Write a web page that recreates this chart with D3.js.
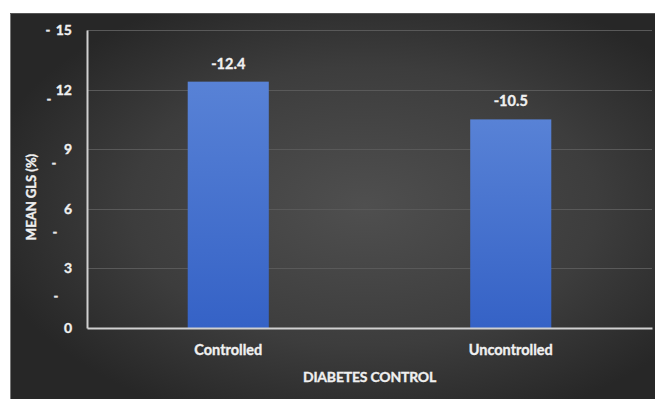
<!DOCTYPE html>
<html><head><meta charset="utf-8">
<script src="https://cdn.jsdelivr.net/npm/d3@7"></script>
<style>html,body{margin:0;padding:0;background:#fff;}svg{display:block;}
text{stroke:#f0f0f0;stroke-width:0.35px;}</style>
</head><body>
<script>
const categories = ["Controlled", "Uncontrolled"];
const meanGLS = [12.4, 10.5];
const valueLabels = ["-12.4", "-10.5"];
const yTicks = [0, 3, 6, 9, 12, 15];
const strayDashes = [15, 11.5, 8.3, 4.8, 1.6];
const xTitle = "DIABETES CONTROL";
const yTitle = "MEAN GLS (%)";

const W = 655, H = 399;
const svg = d3.select("body").append("svg").attr("width", W).attr("height", H);
const defs = svg.append("defs");
const bg = defs.append("radialGradient").attr("id","bg").attr("cx","0.55").attr("cy","0.5").attr("r","0.6");
bg.append("stop").attr("offset","0%").attr("stop-color","#4f4f4f");
bg.append("stop").attr("offset","60%").attr("stop-color","#3d3d3d");
bg.append("stop").attr("offset","100%").attr("stop-color","#272727");
const bar = defs.append("linearGradient").attr("id","bar").attr("x1",0).attr("y1",0).attr("x2",0).attr("y2",1);
bar.append("stop").attr("offset","0%").attr("stop-color","#5882d6");
bar.append("stop").attr("offset","100%").attr("stop-color","#3562c6");

svg.append("rect").attr("x",10).attr("y",13).attr("width",W-10).attr("height",H-13).attr("fill","url(#bg)");
svg.append("line").attr("x1",10.5).attr("x2",10.5).attr("y1",13).attr("y2",H).attr("stroke","#777").attr("stroke-width",1);
svg.append("line").attr("x1",10).attr("x2",W).attr("y1",13.5).attr("y2",13.5).attr("stroke","#555").attr("stroke-width",1);

const m = {left: 87, right: 652, top: 30, bottom: 328};
const x = d3.scaleBand().domain(categories).range([m.left, m.right]).paddingInner(0.713).paddingOuter(0.3565);
const y = d3.scaleLinear().domain([0, 15]).range([m.bottom, m.top]);

const font = "Lato, 'Open Sans', sans-serif";

// gridlines
svg.append("g").selectAll("line").data(yTicks.filter(d => d > 0)).join("line")
  .attr("x1", m.left).attr("x2", m.right)
  .attr("y1", d => Math.round(y(d)) + 0.5).attr("y2", d => Math.round(y(d)) + 0.5)
  .attr("stroke", "#595959").attr("stroke-width", 1);

// bars
svg.append("g").selectAll("rect").data(meanGLS).join("rect")
  .attr("x", (d,i) => x(categories[i])).attr("width", x.bandwidth())
  .attr("y", d => y(d)).attr("height", d => y(0) - y(d))
  .attr("fill", "url(#bar)");

// axes
const yAxis = svg.append("g").attr("transform", `translate(${m.left},0)`)
  .call(d3.axisLeft(y).tickValues(yTicks).tickSize(0).tickPadding(15));
yAxis.select(".domain").attr("stroke", "#d0d0d0").attr("stroke-width", 2);
yAxis.selectAll("text").attr("fill", "#f0f0f0").style("font", `bold 14px ${font}`);

const xAxis = svg.append("g").attr("transform", `translate(0,${m.bottom})`)
  .call(d3.axisBottom(x).tickSize(0).tickPadding(17));
xAxis.select(".domain").attr("stroke", "#d0d0d0").attr("stroke-width", 2);
xAxis.selectAll("text").attr("fill", "#f0f0f0").style("font", `bold 14.5px ${font}`);

// stray dashes beside y labels
svg.append("g").selectAll("text").data(strayDashes).join("text")
  .attr("x", (d,i) => [48, 49, 54, 55, 56][i]).attr("y", d => y(d)).attr("dy", "0.35em")
  .attr("text-anchor", "middle").attr("fill", "#e6e6e6")
  .style("font", `bold 13px ${font}`).text("-");

// value labels
svg.append("g").selectAll("text").data(meanGLS).join("text")
  .attr("x", (d,i) => x(categories[i]) + x.bandwidth()/2).attr("y", d => y(d) - 13)
  .attr("text-anchor", "middle").attr("fill", "#f0f0f0")
  .style("font", `bold 14.5px ${font}`)
  .text((d,i) => valueLabels[i]);

// titles
svg.append("text").attr("x", (m.left + m.right)/2).attr("y", 382).attr("text-anchor","middle")
  .attr("fill","#f0f0f0").style("font",`bold 14px ${font}`).style("letter-spacing","-0.2px").text(xTitle);
svg.append("text").attr("transform","translate(36,197) rotate(-90)").attr("text-anchor","middle")
  .attr("fill","#f0f0f0").style("font",`bold 13px ${font}`).text(yTitle);
</script>
</body></html>
